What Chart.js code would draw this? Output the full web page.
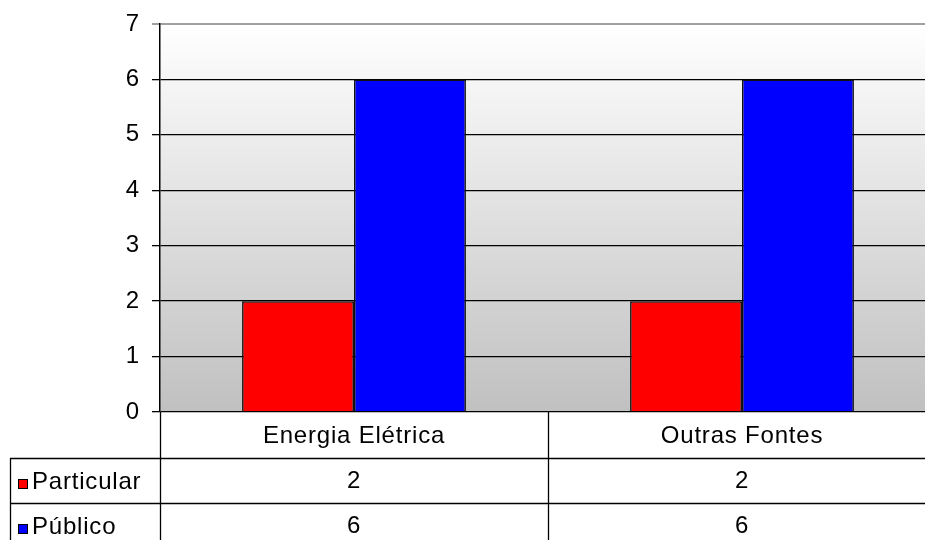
<!DOCTYPE html>
<html lang="pt">
<head>
    <meta charset="UTF-8">
    <title>Energia Elétrica e Outras Fontes</title>
    <script src="https://cdn.jsdelivr.net/npm/chart.js"></script>
    <style>
        html, body { margin: 0; padding: 0; background: #fff; overflow: hidden; }
        #wrap { position: absolute; left: 0; top: 0; width: 940px; height: 540px; }
    </style>
</head>
<body>
    <div id="wrap"><canvas id="chart" width="940" height="540"></canvas></div>

    <script>
        // Data
        const categories = ['Energia Elétrica', 'Outras Fontes'];
        const seriesNames = ['Particular', 'Público'];
        const particular = [2, 2];
        const publico = [6, 6];
        const seriesColors = ['#ff0000', '#0000ff'];
        const yMax = 7;

        const FONT = '"Liberation Sans", Arial, sans-serif';

        // Gradient behind the plot
        const plotBackground = {
            id: 'plotBackground',
            beforeDraw(chart) {
                const { ctx, chartArea: a } = chart;
                const g = ctx.createLinearGradient(0, a.top, 0, a.bottom);
                g.addColorStop(0, '#ffffff');
                g.addColorStop(1, '#c0c0c0');
                ctx.save();
                ctx.fillStyle = g;
                ctx.fillRect(a.left, a.top, a.right - a.left, a.bottom - a.top);
                ctx.restore();
            }
        };

        // Data table under the plot (categories + values + legend keys)
        const dataTable = {
            id: 'dataTable',
            afterDraw(chart) {
                const { ctx, chartArea: a, scales } = chart;
                const x = scales.x;
                const catW = (a.right - a.left) / categories.length;
                const rows = [a.bottom, 458, 503, 548];
                const tableLeft = 10;
                const series = [particular, publico];

                ctx.save();
                ctx.strokeStyle = '#000';
                ctx.lineWidth = 1.3;

                // horizontal lines
                for (let r = 1; r < rows.length - 1; r++) {
                    ctx.beginPath();
                    ctx.moveTo(tableLeft, rows[r] + 0.5);
                    ctx.lineTo(chart.width, rows[r] + 0.5);
                    ctx.stroke();
                }
                // left border of legend column
                ctx.beginPath();
                ctx.moveTo(tableLeft + 0.5, rows[1]);
                ctx.lineTo(tableLeft + 0.5, chart.height);
                ctx.stroke();
                // axis line continues down
                ctx.beginPath();
                ctx.moveTo(a.left + 0.5, a.bottom);
                ctx.lineTo(a.left + 0.5, chart.height);
                ctx.stroke();
                // separators between categories
                for (let i = 1; i < categories.length; i++) {
                    const sx = Math.round(a.left + catW * i) + 0.5;
                    ctx.beginPath();
                    ctx.moveTo(sx, a.bottom);
                    ctx.lineTo(sx, chart.height);
                    ctx.stroke();
                }

                ctx.fillStyle = '#000';
                ctx.font = '24px ' + FONT;
                ctx.letterSpacing = '0.8px';
                ctx.textBaseline = 'middle';
                ctx.textAlign = 'center';

                categories.forEach((c, i) => {
                    const cx = x.getPixelForValue(i);
                    ctx.fillText(c, cx, (rows[0] + rows[1]) / 2 + 1);
                    series.forEach((s, k) => {
                        ctx.fillText(String(s[i]), cx, (rows[k + 1] + rows[k + 2]) / 2 + 1);
                    });
                });

                // legend keys
                ctx.textAlign = 'left';
                seriesNames.forEach((name, k) => {
                    const top = rows[k + 1];
                    ctx.fillStyle = seriesColors[k];
                    ctx.fillRect(18, top + 21, 10, 10);
                    ctx.strokeStyle = '#000';
                    ctx.lineWidth = 1;
                    ctx.strokeRect(18.5, top + 21.5, 9, 9);
                    ctx.fillStyle = '#000';
                    ctx.fillText(name, 32, top + 24);
                });
                ctx.restore();
            }
        };

        new Chart(document.getElementById('chart'), {
            type: 'bar',
            data: {
                labels: categories,
                datasets: [
                    { label: seriesNames[0], data: particular, backgroundColor: seriesColors[0], borderColor: '#111', borderWidth: 1.6 },
                    { label: seriesNames[1], data: publico, backgroundColor: seriesColors[1], borderColor: '#111', borderWidth: 1.6 }
                ]
            },
            options: {
                responsive: false,
                animation: false,
                devicePixelRatio: 1,
                layout: { padding: { left: 0, top: 24, right: 4, bottom: 128 } },
                datasets: { bar: { categoryPercentage: 0.577, barPercentage: 1 } },
                plugins: { legend: { display: false }, tooltip: { enabled: false } },
                scales: {
                    x: { display: false },
                    y: {
                        min: 0,
                        max: yMax,
                        afterFit(scale) {
                            scale.width = 160;
                            scale.paddingTop = 0;
                            scale.paddingBottom = 0;
                        },
                        ticks: { stepSize: 1, padding: 13, color: '#000', font: { family: FONT, size: 24 } },
                        grid: {
                            tickLength: 8,
                            color: ctx => ctx.tick && ctx.tick.value === yMax ? '#a0a0a0' : '#000',
                            lineWidth: ctx => ctx.tick && ctx.tick.value === yMax ? 2 : 1.3
                        },
                        border: { color: '#000', width: 1.5 }
                    }
                }
            },
            plugins: [plotBackground, dataTable]
        });
    </script>
</body>
</html>
